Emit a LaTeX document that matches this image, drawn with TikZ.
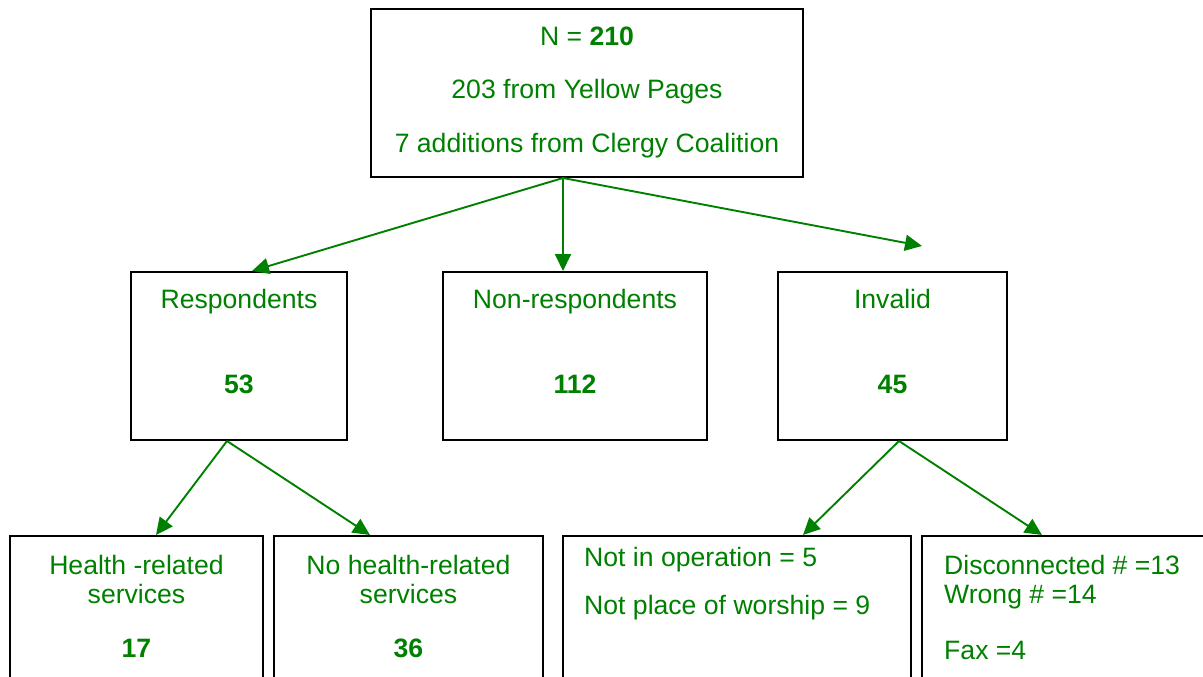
\documentclass[tikz,border=0pt]{standalone}
\usepackage{fontspec}
\setmainfont{Liberation Sans}
\usetikzlibrary{arrows.meta, positioning}
\definecolor{flowgreen}{RGB}{0,128,0}

\begin{document}
\begin{tikzpicture}[x=1pt, y=-1pt,
    box/.style={draw=black, line width=2pt, inner sep=0pt},
    txt/.style={anchor=base, text=flowgreen, inner sep=0pt, font=\fontsize{26.6}{31}\selectfont},
    ltxt/.style={txt, anchor=base west},
    flow/.style={draw=flowgreen, line width=1.9pt, -{Triangle[length=17pt,width=16pt]}}]

    % Frame (bottom row is cut by the page edge)
    \clip (0,0) rectangle (1203,677);

    % Top box
    \node[box, minimum width=432, minimum height=168] (top) at (587,93) {};
    \node[txt] (topn) at (587,46) {N = \textbf{210}};
    \node[txt] (topyp) at (587,99) {203 from Yellow Pages};
    \node[txt] (topcc) at (587,152) {7 additions from Clergy Coalition};

    % Second row
    \node[box, minimum width=216, minimum height=168] (resp) at (239,356) {};
    \node[txt] (resptxt) at (239,308) {Respondents};
    \node[txt] (respnum) at (239,393) {\textbf{53}};

    \node[box, minimum width=264, minimum height=168] (nonresp) at (575,356) {};
    \node[txt] (nonresptxt) at (575,308) {Non-respondents};
    \node[txt] (nonrespnum) at (575,393) {\textbf{112}};

    \node[box, minimum width=229, minimum height=168] (invalid) at (892.5,356) {};
    \node[txt] (invalidtxt) at (892.5,308) {Invalid};
    \node[txt] (invalidnum) at (892.5,393) {\textbf{45}};

    % Bottom row
    \node[box, minimum width=253, minimum height=184] (health) at (136.5,628) {};
    \node[txt] (healtha) at (136.5,574) {Health -related};
    \node[txt] (healthb) at (136.5,603) {services};
    \node[txt] (healthnum) at (136.5,657) {\textbf{17}};

    \node[box, minimum width=269, minimum height=184] (nohealth) at (408.5,628) {};
    \node[txt] (nohealtha) at (408.5,574) {No health-related};
    \node[txt] (nohealthb) at (408.5,603) {services};
    \node[txt] (nohealthnum) at (408.5,657) {\textbf{36}};

    \node[box, minimum width=348, minimum height=184] (notop) at (737,628) {};
    \node[ltxt] (notopa) at (584,566) {Not in operation = 5};
    \node[ltxt] (notopb) at (584,614) {Not place of worship = 9};

    \node[box, minimum width=338, minimum height=184] (phone) at (1091,628) {};
    \node[ltxt] (phonea) at (944,574) {Disconnected \# =13};
    \node[ltxt] (phoneb) at (944,603) {Wrong \# =14};
    \node[ltxt] (phonec) at (944,659) {Fax =4};

    % Arrows
    \coordinate (topout) at ([xshift=-24]top.south);
    \coordinate (invalidtip) at (922,246);
    \draw[flow] (topout) -- ([xshift=13]resp.north);
    \draw[flow] (topout) -- ([xshift=-12]nonresp.north);
    \draw[flow] (topout) -- (invalidtip);

    \draw[flow] ([xshift=-12]resp.south) -- ([xshift=19.5]health.north);
    \draw[flow] ([xshift=-12]resp.south) -- ([xshift=-38.5]nohealth.north);

    \draw[flow] ([xshift=6.5]invalid.south) -- ([xshift=66]notop.north);
    \draw[flow] ([xshift=6.5]invalid.south) -- ([xshift=-49]phone.north);
\end{tikzpicture}
\end{document}
